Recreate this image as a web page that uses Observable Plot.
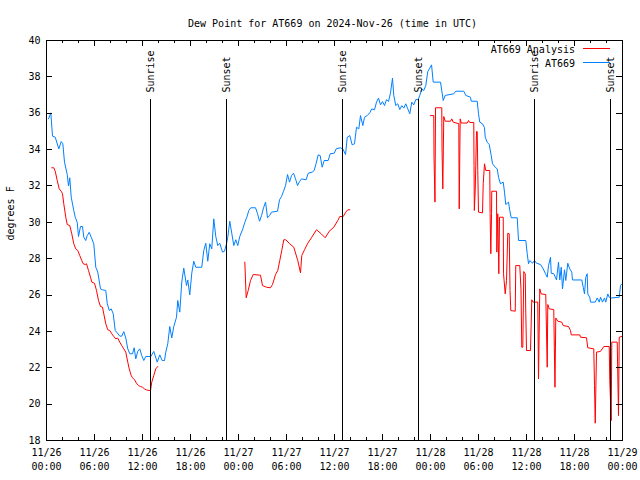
<!DOCTYPE html>
<html><head><meta charset="utf-8">
<script src="https://cdn.jsdelivr.net/npm/d3@7"></script>
<script src="https://cdn.jsdelivr.net/npm/@observablehq/plot@0.6"></script>
<style>body{margin:0;background:#fff} svg{display:block}</style>
</head><body><div id="chart"></div>
<script>
// ---- data (hours since 2024-11-26 00:00 UTC, degrees F) ----
const title = "Dew Point for AT669 on 2024-Nov-26 (time in UTC)";
const yLabel = "degrees F";
const startTime = "2024-11-26T00:00:00Z";
const endHours = 72;
const xMajorHours = [0, 6, 12, 18, 24, 30, 36, 42, 48, 54, 60, 66, 72];
const xMinorHours = [2, 4, 8, 10, 14, 16, 20, 22, 26, 28, 32, 34, 38, 40, 44, 46, 50, 52, 56, 58, 62, 64, 68, 70];
const yTicks = [18, 20, 22, 24, 26, 28, 30, 32, 34, 36, 38, 40];
const sunHours = [13.04, 22.54, 37.04, 46.54, 61.04, 70.54];
const sunLabels = ["Sunrise", "Sunset", "Sunrise", "Sunset", "Sunrise", "Sunset"];
const seriesNames = ["AT669 Analysis", "AT669"];
const seriesColors = ["#ff0000", "#0080ff"];

const analysis = [
[0.66,33.0],[0.91,33.0],[1.09,32.81],[1.34,32.3],[1.59,31.84],[1.84,31.71],[2.0,31.57],[2.16,31.02],[2.41,30.28],[2.59,29.88],[2.91,29.82],[3.16,29.37],[3.41,28.82],[3.66,28.54],[3.91,28.45],[4.16,28.17],[4.41,27.9],[4.59,27.72],[4.84,27.68],[5.0,27.72],[5.25,27.35],[5.5,26.98],[5.66,26.71],[6.0,26.65],[6.25,26.25],[6.5,25.7],[6.75,25.37],[7.0,25.33],[7.16,24.97],[7.41,24.42],[7.66,24.09],[7.91,24.05],[8.16,23.87],[8.41,23.72],[8.66,23.59],[8.91,23.63],[9.16,23.41],[9.41,23.22],[9.66,23.04],[9.91,22.86],[10.16,22.31],[10.34,21.94],[10.59,21.57],[10.75,21.45],[11.0,21.34],[11.25,21.15],[11.5,21.02],[11.75,20.97],[12.0,20.93],[12.25,20.84],[12.5,20.78],[12.84,20.75],[13.0,20.75],[13.16,21.21],[13.41,21.57],[13.66,21.94],[13.91,22.07],
[18,null],
[24.79,27.81],[24.96,25.85],[25.21,26.25],[25.5,26.8],[25.84,27.13],[26.75,27.09],[27.0,26.52],[27.5,26.43],[28.0,26.4],[28.25,26.58],[28.63,27.13],[28.91,27.35],[29.16,27.9],[29.41,28.45],[29.66,29.04],[29.91,29.04],[30.41,28.82],[30.91,28.63],[31.41,27.9],[31.75,27.22],[31.91,28.17],[32.25,28.49],[32.66,28.85],[33.16,29.18],[33.75,29.59],[34.34,29.37],[34.84,29.15],[35.34,29.51],[35.91,29.73],[36.41,30.1],[36.66,30.32],[37.09,30.32],[37.41,30.56],[37.66,30.69],[37.91,30.69],
[43,null],
[48.0,35.87],[48.41,35.87],[48.44,33.58],[48.56,31.11],[48.63,36.3],[49.41,36.3],[49.44,34.04],[49.54,31.84],[49.66,35.82],[49.84,35.56],[50.5,35.56],[50.66,35.69],[50.84,35.51],[51.54,35.42],[51.56,33.12],[51.59,30.74],[51.71,35.69],[51.84,35.46],[52.59,35.46],[52.75,35.6],[52.91,35.49],[53.41,35.49],[53.44,33.12],[53.48,30.65],[53.59,31.75],[53.75,34.99],[53.84,34.99],[53.91,32.85],[54.0,30.56],[54.5,30.52],[54.59,32.12],[54.75,33.22],[54.91,32.85],[55.41,32.85],[55.45,30.47],[55.54,28.27],[55.63,30.47],[55.66,31.71],[56.25,31.71],[56.29,28.36],[56.41,30.47],[56.54,27.17],[56.63,30.28],[57.09,30.28],[57.13,27.17],[57.34,26.06],[57.5,26.8],[57.66,29.4],[57.84,29.37],[57.94,26.25],[58.04,25.15],[58.59,25.11],[58.66,27.62],[59.16,27.62],[59.31,26.34],[59.41,23.13],[59.54,23.13],[59.66,27.29],[59.84,27.17],[59.91,25.06],[60.0,22.95],[60.5,22.95],[60.66,25.74],[60.84,25.61],[61.41,25.61],[61.45,23.87],[61.5,21.39],[61.66,26.34],[61.84,26.06],[62.41,26.03],[62.5,23.96],[62.59,22.03],[62.66,25.48],[62.84,25.24],[63.41,25.2],[63.48,23.13],[63.56,20.93],[63.66,24.74],[63.91,24.56],[64.41,24.51],[64.59,24.32],[65.25,24.27],[65.5,24.05],[65.59,23.81],[66.66,23.81],[66.75,23.68],[67.5,23.65],[67.66,23.1],[68.41,23.04],[68.5,21.02],[68.59,18.95],[68.75,22.86],[69.25,22.9],[69.66,23.17],[70.34,23.17],[70.41,21.3],[70.59,19.1],[70.66,23.41],[71.34,23.41],[71.41,21.66],[71.5,19.37],[71.59,23.68],[71.88,23.72]
];

const observed = [
[0.25,35.69],[0.54,36.02],[0.75,34.74],[1.09,34.68],[1.54,34.04],[1.84,34.44],[2.04,34.32],[2.25,33.31],[2.59,32.63],[2.75,32.0],[2.91,32.45],[3.09,31.38],[3.41,30.65],[3.59,30.28],[3.84,30.0],[4.0,29.22],[4.25,29.77],[4.5,29.77],[4.66,29.18],[4.91,29.0],[5.09,29.27],[5.34,29.45],[5.59,29.18],[5.91,28.82],[6.16,27.53],[6.41,27.26],[6.75,26.34],[7.0,26.29],[7.41,26.25],[7.59,25.55],[7.84,25.15],[8.09,25.24],[8.34,24.97],[8.59,24.05],[8.84,23.92],[9.16,23.74],[9.41,23.74],[9.66,23.99],[9.91,23.64],[10.16,23.04],[10.41,22.77],[10.75,22.77],[10.96,23.1],[11.16,22.49],[11.41,22.91],[11.66,23.04],[11.91,22.67],[12.16,22.4],[12.41,22.62],[13.04,22.62],[13.41,22.9],[13.84,22.31],[14.16,22.71],[14.46,22.4],[14.75,22.4],[14.91,22.86],[15.16,23.32],[15.41,24.27],[15.66,23.64],[15.91,24.27],[16.25,24.78],[16.41,25.7],[16.66,25.06],[16.91,26.71],[17.16,27.48],[17.5,26.52],[17.66,26.83],[17.91,26.01],[18.16,27.2],[18.41,27.86],[18.66,27.53],[19.41,27.53],[19.66,28.45],[19.91,28.85],[20.16,27.86],[20.41,28.82],[20.66,28.54],[20.91,30.19],[21.16,29.22],[21.41,28.72],[21.66,28.85],[22.0,28.36],[22.25,28.41],[22.5,28.82],[22.66,29.18],[22.91,30.06],[23.16,29.4],[23.41,28.72],[23.66,29.04],[23.91,28.72],[24.16,29.22],[24.54,29.64],[24.79,30.0],[25.04,30.28],[25.29,30.65],[25.54,30.8],[26.13,30.8],[26.38,30.47],[26.63,30.06],[26.88,30.37],[27.13,30.8],[27.38,31.11],[27.63,30.25],[27.88,30.37],[28.13,30.56],[28.88,30.61],[29.13,31.24],[29.38,31.42],[29.63,31.71],[29.88,32.02],[30.13,32.63],[30.38,32.21],[30.63,32.58],[30.88,32.7],[31.13,32.39],[31.38,32.02],[31.63,32.24],[31.88,32.39],[32.46,32.34],[32.71,32.7],[33.21,32.76],[33.46,32.85],[33.71,33.25],[33.96,33.71],[34.21,33.67],[34.46,33.03],[34.71,33.4],[35.21,33.4],[35.46,33.77],[35.96,33.8],[36.21,34.04],[36.71,34.1],[37.04,34.04],[37.38,33.73],[37.59,34.68],[37.91,34.77],[38.21,34.26],[38.5,34.32],[38.75,35.23],[39.04,35.14],[39.25,35.87],[39.54,35.32],[39.75,35.78],[40.09,35.87],[40.41,36.02],[40.66,36.24],[41.0,36.19],[41.25,36.61],[41.5,36.83],[41.75,36.46],[42.0,36.64],[42.25,36.42],[42.5,36.75],[42.75,36.64],[43.0,37.12],[43.25,37.93],[43.41,36.98],[43.66,36.42],[43.91,36.52],[44.16,36.2],[44.41,36.42],[44.66,36.28],[44.91,36.52],[45.16,36.24],[45.41,35.97],[45.66,36.61],[45.91,36.46],[46.16,36.75],[46.46,36.75],[46.66,36.98],[46.91,37.34],[47.16,37.25],[47.41,37.52],[47.66,38.29],[47.91,38.48],[48.13,38.66],[48.34,37.71],[49.25,37.71],[49.59,36.7],[49.84,36.98],[50.91,37.07],[51.16,37.21],[52.16,37.21],[52.41,36.98],[53.0,36.88],[53.09,36.66],[53.84,36.66],[54.0,35.97],[54.16,35.51],[54.5,35.42],[54.75,35.2],[54.84,34.68],[55.09,34.4],[55.34,34.28],[55.59,33.67],[55.75,33.22],[56.09,33.03],[56.34,32.94],[56.5,32.48],[56.75,32.12],[57.09,32.21],[57.25,31.66],[57.41,30.98],[57.75,31.11],[57.91,30.65],[58.09,30.25],[58.84,30.25],[59.0,29.0],[59.91,29.0],[60.09,28.27],[60.25,27.72],[60.41,27.9],[60.75,27.75],[61.0,27.9],[61.25,27.75],[61.75,27.68],[62.09,27.44],[62.34,27.2],[62.59,26.98],[62.75,27.62],[63.0,28.08],[63.09,27.2],[63.41,27.17],[63.75,26.83],[64.0,27.81],[64.16,26.83],[64.34,27.53],[64.5,26.34],[64.75,27.39],[64.91,26.8],[65.16,27.75],[65.41,27.44],[65.66,27.26],[65.75,26.83],[66.91,26.83],[67.09,26.43],[67.25,26.06],[67.41,26.98],[67.59,27.17],[67.66,26.06],[67.91,25.88],[68.0,25.61],[68.59,25.61],[68.84,25.84],[69.09,25.61],[69.25,25.88],[69.5,25.61],[69.75,25.84],[69.91,25.61],[70.16,26.06],[70.34,25.88],[70.59,25.84],[71.59,25.88],[71.75,26.52],[71.91,26.61]
];

// ---- build ----
const t0 = Date.parse(startTime);
const toDate = h => new Date(t0 + h * 3600000);
const asRows = s => s.map(([h, v]) => ({t: toDate(h), v}));
const redRows = asRows(analysis);
const blueRows = asRows(observed);
const sun = sunHours.map((h, i) => ({t: toDate(h), label: sunLabels[i]}));
const majors = xMajorHours.map(toDate);
const minors = xMinorHours.map(toDate);
const fmtDate = d3.utcFormat("%m/%d");
const fmtTime = d3.utcFormat("%H:%M");
const FONT = "DejaVu Sans Mono";
const crisp = {stroke: "black", strokeWidth: 1, shapeRendering: "crispEdges"};

function legend(index, scales, values, dims) {
  const g = d3.create("svg:g").attr("font-family", FONT).attr("font-size", 10);
  const right = dims.width - dims.marginRight;
  seriesNames.forEach((name, i) => {
    const y = dims.marginTop + 8 + i * 14;
    g.append("text").attr("x", right - 47).attr("y", y + 1.5).attr("dy", "0.35em")
      .attr("text-anchor", "end").attr("fill", "black").text(name);
    g.append("line").attr("x1", right - 39).attr("x2", right - 12)
      .attr("y1", y + 0.5).attr("y2", y + 0.5).attr("stroke", seriesColors[i])
      .attr("stroke-width", 1).attr("shape-rendering", "crispEdges");
  });
  return g.node();
}

const chart = Plot.plot({
  width: 640, height: 480,
  marginLeft: 46, marginRight: 18, marginTop: 40, marginBottom: 40,
  style: {fontFamily: FONT, fontSize: "10px", background: "white", color: "black"},
  x: {type: "utc", domain: [toDate(0), toDate(endHours)], axis: null},
  y: {domain: [18, 40], axis: null},
  marks: [
    Plot.line(redRows, {x: "t", y: "v", stroke: seriesColors[0], strokeWidth: 1}),
    Plot.line(blueRows, {x: "t", y: "v", stroke: seriesColors[1], strokeWidth: 1}),
    Plot.ruleX(sun, {x: "t", y1: 18, y2: 36.75, ...crisp}),
    Plot.text(sun, {x: "t", y: 36.75, text: "label", rotate: -90, textAnchor: "start", lineAnchor: "middle", dy: -7, fill: "black"}),
    // ticks (inward, mirrored)
    Plot.ruleX(majors, {x: d => d, insetTop: 394, ...crisp}),
    Plot.ruleX(majors, {x: d => d, insetBottom: 394, ...crisp}),
    Plot.ruleX(minors, {x: d => d, insetTop: 397, ...crisp}),
    Plot.ruleX(minors, {x: d => d, insetBottom: 397, ...crisp}),
    Plot.ruleY(yTicks, {y: d => d, insetRight: 570, ...crisp}),
    Plot.ruleY(yTicks, {y: d => d, insetLeft: 570, ...crisp}),
    Plot.frame(crisp),
    // tick labels
    Plot.text(majors, {x: d => d, text: d => fmtDate(d), frameAnchor: "bottom", dy: 12.5, lineAnchor: "middle", fill: "black"}),
    Plot.text(majors, {x: d => d, text: d => fmtTime(d), frameAnchor: "bottom", dy: 26.5, lineAnchor: "middle", fill: "black"}),
    Plot.text(yTicks, {y: d => d, text: d => String(d), frameAnchor: "left", dx: -6, textAnchor: "end", fill: "black"}),
    // titles
    Plot.text([title], {frameAnchor: "top", dy: -21, dx: -2, fill: "black"}),
    Plot.text([yLabel], {frameAnchor: "left", dx: -36, rotate: -90, fill: "black"}),
    legend
  ]
});
document.getElementById("chart").appendChild(chart);
</script>
</body></html>
